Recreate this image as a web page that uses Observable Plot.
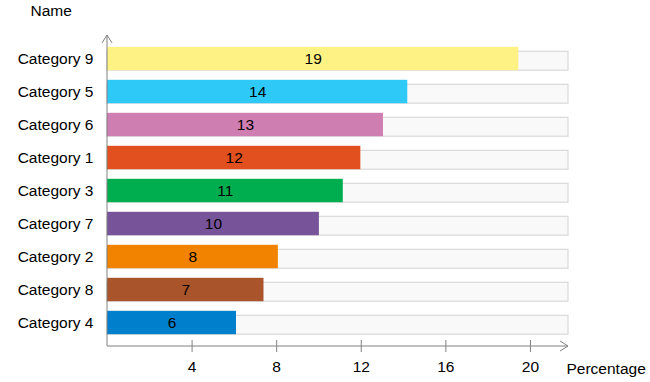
<!DOCTYPE html>
<html><head><meta charset="utf-8">
<script src="https://cdn.jsdelivr.net/npm/d3@7"></script>
<script src="https://cdn.jsdelivr.net/npm/@observablehq/plot@0.6"></script>
<style>body{margin:0;background:#fff;}</style>
</head><body><div id="chart"></div>
<script>
const names = ["Category 9","Category 5","Category 6","Category 1","Category 3","Category 7","Category 2","Category 8","Category 4"];
const values = [19.45, 14.2, 13.05, 11.98, 11.15, 10.02, 8.08, 7.4, 6.1];
const colors = ["#FEF285","#2EC9F6","#CF7EB2","#E2501F","#00AE50","#77539A","#F28300","#A9542A","#0080CC"];
const xTicks = [4, 8, 12, 16, 20];
const xMax = 21.8;
const xTitle = "Percentage";
const yTitle = "Name";

const data = names.map((n, i) => ({name: n, value: values[i], color: colors[i]}));
const W = 650, H = 382, mL = 107, mR = 82, mT = 41, mB = 43;
const FS = 15.5;

const plot = Plot.plot({
  width: W, height: H,
  marginLeft: mL, marginRight: mR, marginTop: mT, marginBottom: mB,
  style: {fontFamily: "'Liberation Sans', Arial, sans-serif", fontSize: FS + "px", background: "#fff", color: "#000"},
  x: {domain: [0, xMax]},
  y: {domain: names, padding: 0},
  color: {type: "identity"},
  marks: [
    Plot.barX(data, {x1: 0, x2: xMax, y: "name", fill: "#f9f9f9", stroke: "#d9d9d9", strokeWidth: 1.2, insetTop: 9.3, insetBottom: 4.8}),
    Plot.barX(data, {x: "value", y: "name", fill: d => d.color, insetTop: 4.8, insetBottom: 4.8}),
    Plot.text(data, {x: d => d.value / 2, y: "name", text: d => String(Math.round(d.value)), fill: "#000", fontSize: FS}),
    Plot.axisY({tickSize: 0, tickPadding: 14, label: null, fontSize: FS, fill: "#000"}),
    Plot.axisX({ticks: xTicks, tickSize: 12, tickPadding: 8, label: null, fontSize: FS, stroke: "#808080", fill: "#000", dy: 1}),
    Plot.text([yTitle], {frameAnchor: "top-left", textAnchor: "start", dx: -77, dy: -37, fontSize: FS, fill: "#000"}),
    Plot.text([xTitle], {frameAnchor: "bottom-right", textAnchor: "start", dx: -2, dy: 34, fontSize: FS, fill: "#000"})
  ]
});

// axis lines with arrow heads, positioned from the plot's scales
const xs = plot.scale("x");
const x0 = xs.apply(0);
const xEnd = xs.apply(xMax);
const yAxisBottom = H - mB + 7;
const yAxisTop = mT - 6;
const svg = d3.select(plot);
const g = svg.append("g").attr("stroke", "#808080").attr("fill", "none").attr("stroke-width", 1);
g.append("line").attr("x1", x0).attr("x2", x0).attr("y1", yAxisTop).attr("y2", yAxisBottom);
g.append("line").attr("x1", x0).attr("x2", xEnd).attr("y1", yAxisBottom).attr("y2", yAxisBottom);
g.append("path").attr("d", `M${x0 - 5},${yAxisTop + 8}L${x0},${yAxisTop}L${x0 + 5},${yAxisTop + 8}`);
g.append("path").attr("d", `M${xEnd - 8},${yAxisBottom - 5}L${xEnd},${yAxisBottom}L${xEnd - 8},${yAxisBottom + 5}`);

document.getElementById("chart").appendChild(plot);
</script>
</body></html>
